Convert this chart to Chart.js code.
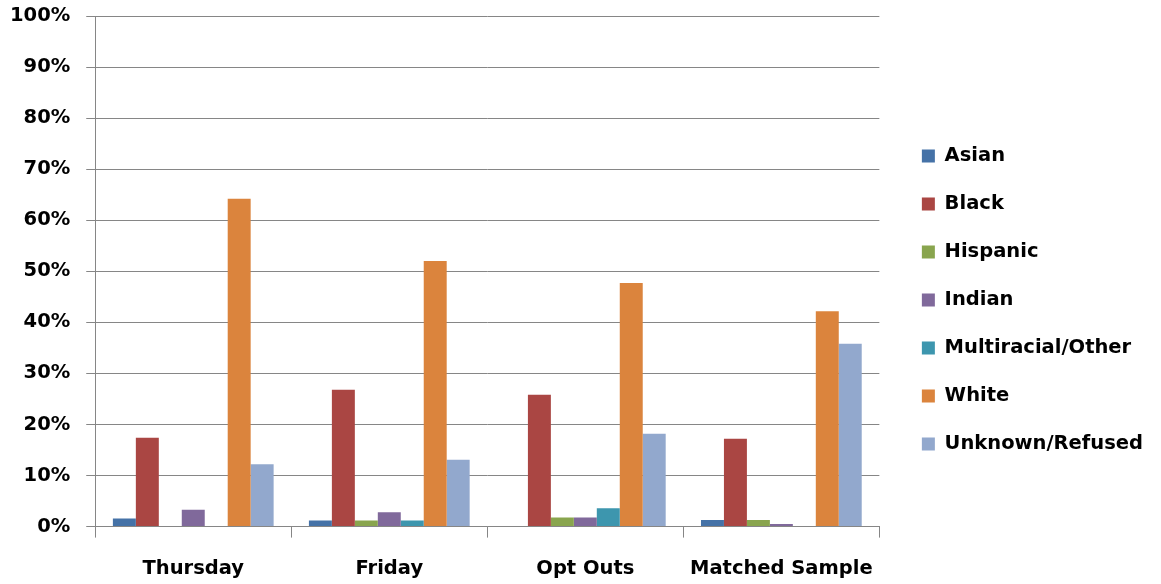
<!DOCTYPE html>
<html lang="en">
<head>
  <title>Race Breakdown</title>
  <meta charset="UTF-8" />
  <script src="https://cdn.jsdelivr.net/npm/chart.js"></script>
  <style>
    html, body { margin: 0; padding: 0; background: #fff; }
    #wrap { width: 1161px; height: 584px; }
  </style>
</head>
<body>
  <div id="wrap"><canvas id="myChart" width="1161" height="584"></canvas></div>
  <script>
    // categories and tick labels
    const categories = ['Thursday', 'Friday', 'Opt Outs', 'Matched Sample'];
    const yTicks = ['0%', '10%', '20%', '30%', '40%', '50%', '60%', '70%', '80%', '90%', '100%'];

    // series values (percent)
    const asian = [1.6, 1.2, 0, 1.3];
    const black = [17.4, 26.8, 25.8, 17.2];
    const hispanic = [0, 1.2, 1.8, 1.3];
    const indian = [3.3, 2.8, 1.8, 0.5];
    const multiracial = [0, 1.2, 3.6, 0];
    const white = [64.2, 52.0, 47.7, 42.2];
    const unknown = [12.2, 13.1, 18.2, 35.8];

    const seriesNames = ['Asian', 'Black', 'Hispanic', 'Indian', 'Multiracial/Other', 'White', 'Unknown/Refused'];
    const seriesColors = ['#4572A7', '#AA4643', '#89A54E', '#80699B', '#3D96AE', '#DB843D', '#92A8CD'];
    const seriesValues = [asian, black, hispanic, indian, multiracial, white, unknown];

    const labelFont = { family: '"DejaVu Sans"', size: 19.5, weight: 'bold' };

    const ctx = document.getElementById('myChart').getContext('2d');
    const myChart = new Chart(ctx, {
      type: 'bar',
      data: {
        labels: categories,
        datasets: seriesNames.map((name, i) => ({
          label: name,
          data: seriesValues[i],
          backgroundColor: seriesColors[i],
          borderWidth: 0,
          categoryPercentage: 0.82,
          barPercentage: 1.0
        }))
      },
      options: {
        responsive: false,
        animation: false,
        layout: { padding: { top: -14, right: 8, left: -6, bottom: -17 } },
        plugins: {
          tooltip: { enabled: false },
          legend: {
            position: 'right',
            title: { display: true, text: ' ', font: { size: 1 }, padding: { top: 12, bottom: 0 } },
            labels: {
              color: '#000',
              font: labelFont,
              boxWidth: 13,
              boxHeight: 13,
              padding: 28.5
            }
          }
        },
        scales: {
          x: {
            offset: true,
            grid: {
              display: true,
              offset: true,
              drawOnChartArea: false,
              drawTicks: true,
              tickLength: 11,
              color: '#868686'
            },
            border: { color: '#868686' },
            ticks: { color: '#000', font: labelFont, padding: 20 }
          },
          y: {
            min: 0,
            max: 100,
            grid: {
              color: '#868686',
              tickLength: 9
            },
            border: { color: '#868686' },
            ticks: {
              stepSize: 10,
              color: '#000',
              font: labelFont,
              padding: 16,
              callback: (v, idx) => yTicks[idx]
            },
            // keep the 100% line close to the top edge
            afterFit: (scale) => { scale.paddingTop = 16; }
          },
          // empty spacer between the plot and the legend
          gap: {
            type: 'linear',
            position: 'right',
            display: false,
            afterFit: (scale) => { scale.width = 14; }
          }
        }
      }
    });
  </script>
</body>
</html>
